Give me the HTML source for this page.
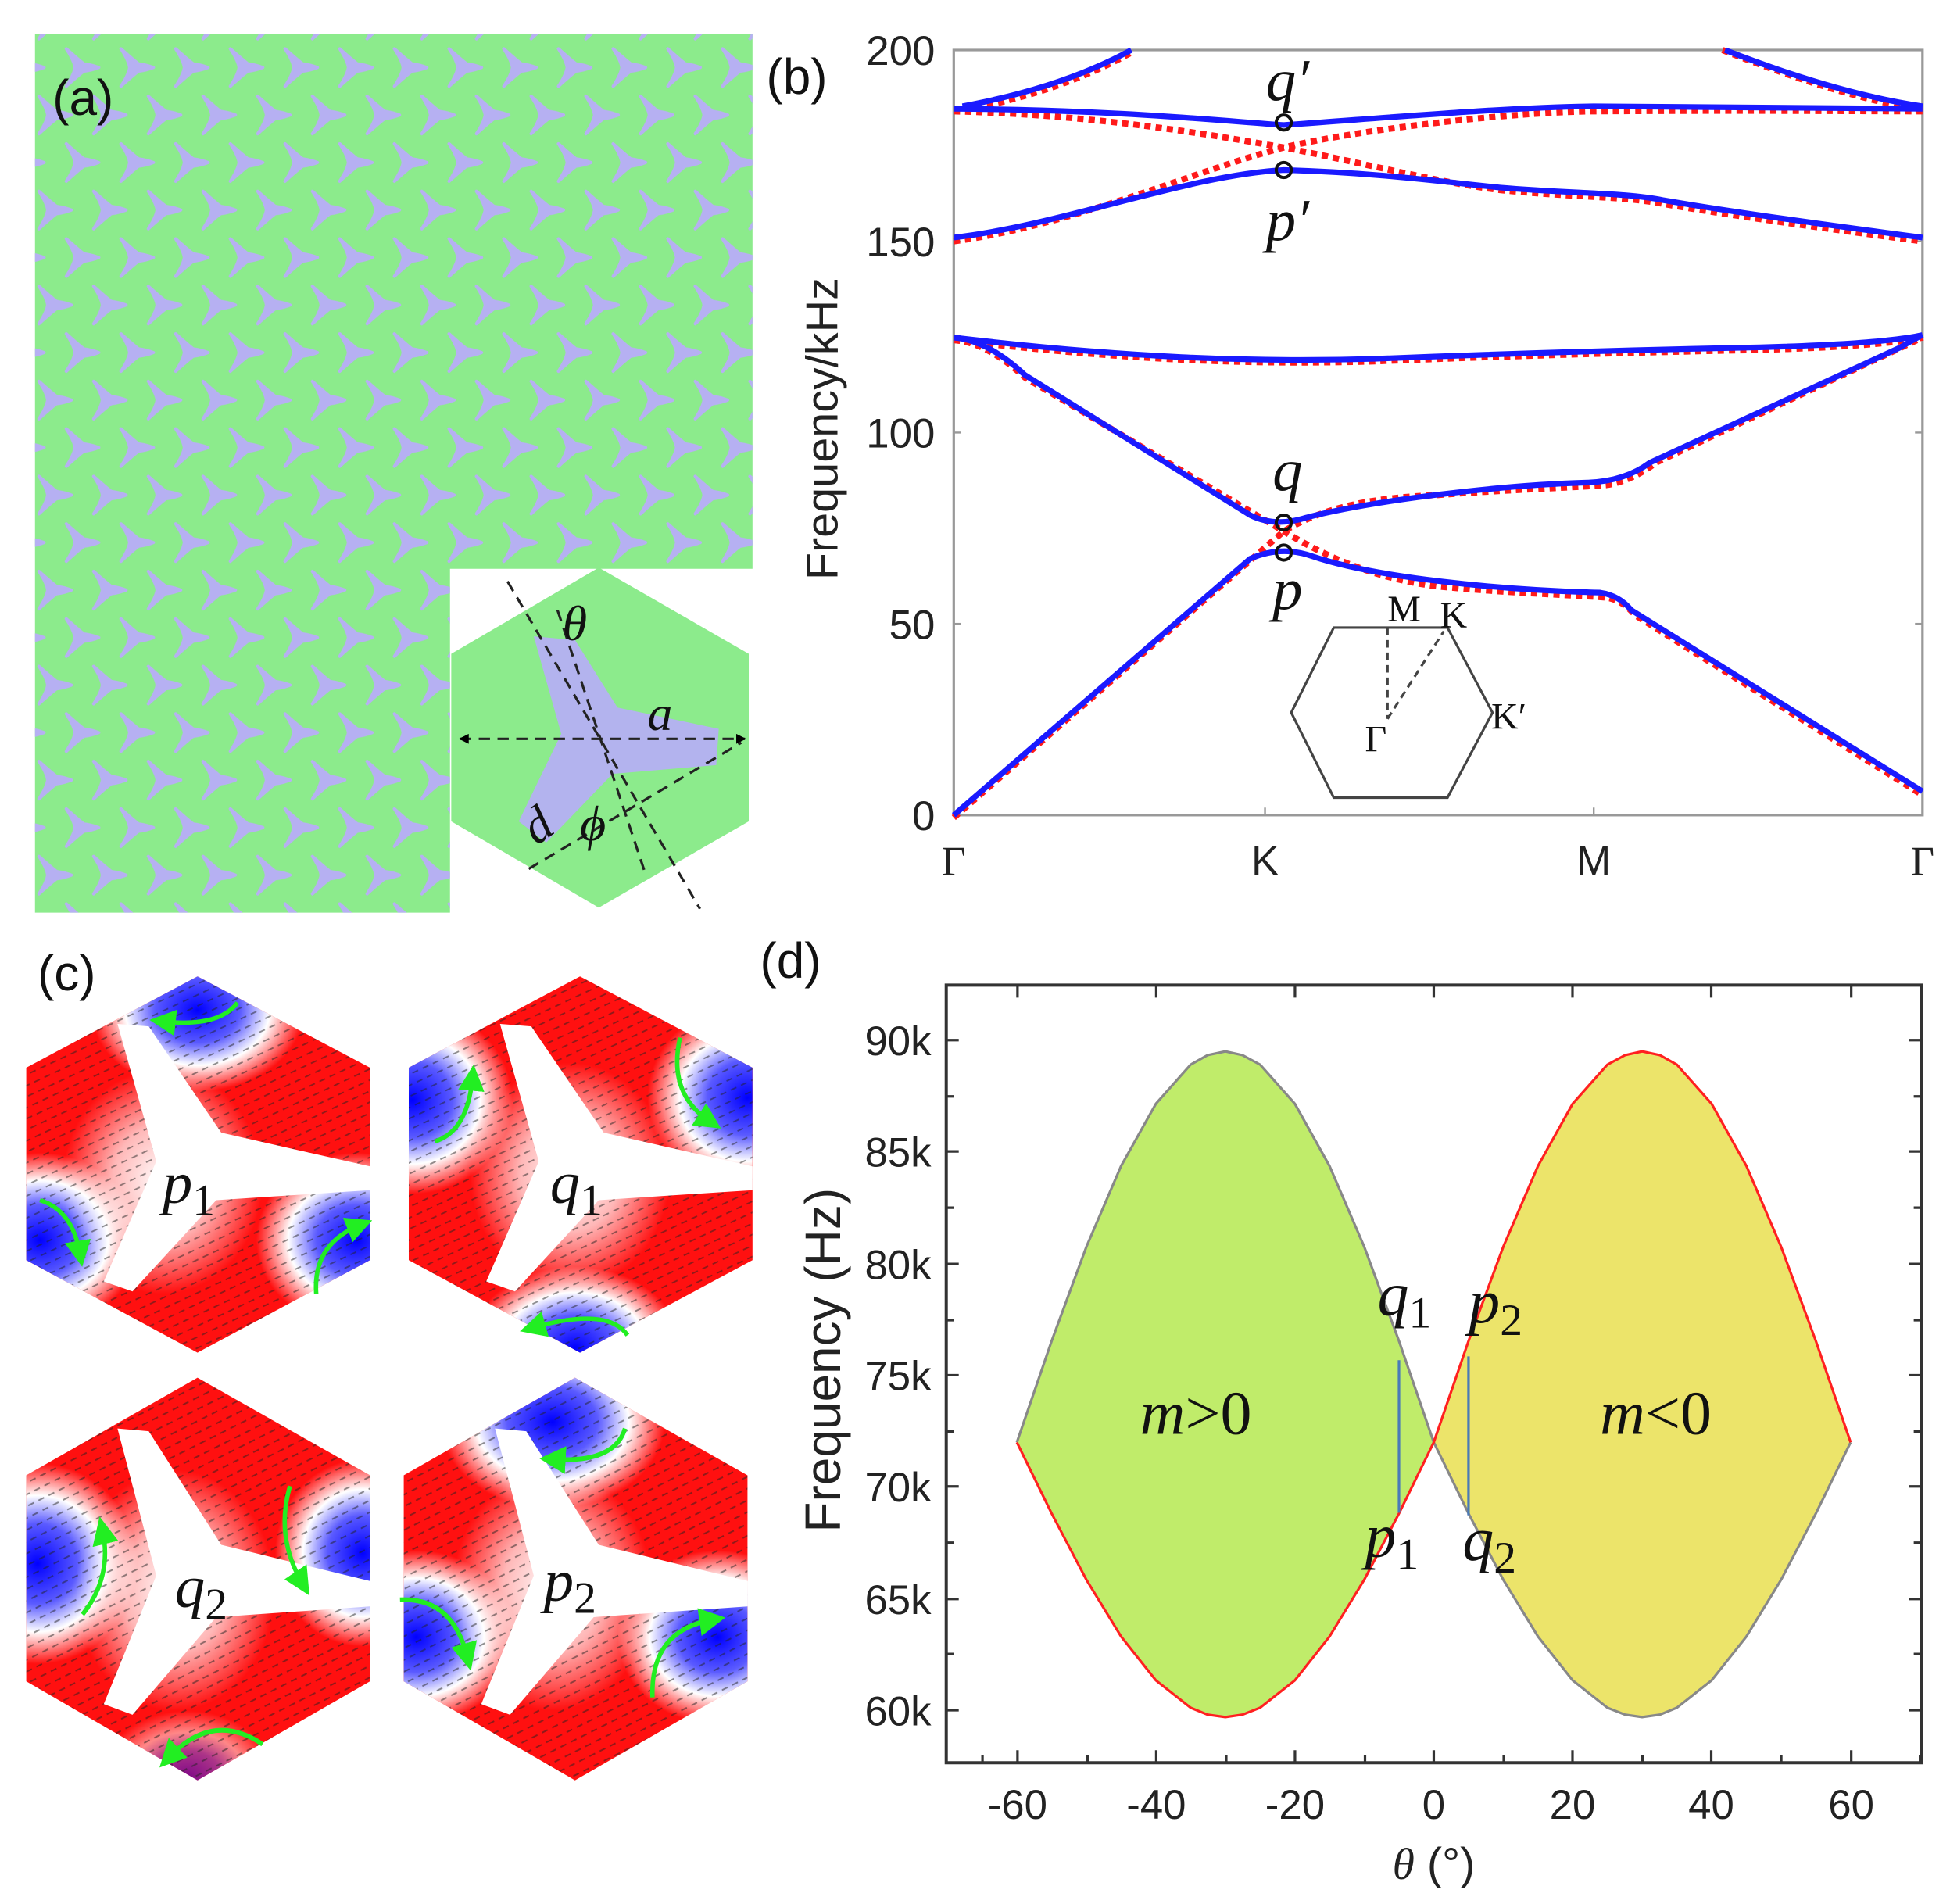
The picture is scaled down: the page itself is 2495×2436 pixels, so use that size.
<!DOCTYPE html>
<html><head><meta charset="utf-8"><style>html,body{margin:0;padding:0;background:#fff}svg{display:block}</style></head>
<body>
<svg width="2495" height="2436" viewBox="0 0 1560 1523" preserveAspectRatio="none" xmlns="http://www.w3.org/2000/svg" font-family="Liberation Sans, sans-serif">
<defs>
<path id="st" d="M-11,-15 Q-1,-6 3,-3 Q10,-2 15,0 Q10,2 3,3 Q-1,6 -11,15 Q-5,6 -4,0 Q-5,-6 -11,-15Z" fill="#b6b0f2" stroke="#b6b0f2" stroke-width="2.5" stroke-linejoin="round"/>
<pattern id="stars" x="53" y="35" width="43.75" height="76" patternUnits="userSpaceOnUse">
<use href="#st" x="11" y="19"/>
<use href="#st" x="32.9" y="57"/>
<use href="#st" x="-10.9" y="57"/>
<use href="#st" x="54.75" y="19"/>
<use href="#st" x="11" y="95"/>
<use href="#st" x="32.9" y="-19"/>
<use href="#st" x="-10.9" y="-19"/>
</pattern>
<pattern id="arr" width="9" height="8" patternUnits="userSpaceOnUse" patternTransform="rotate(-25)">
<line x1="1" y1="4" x2="6" y2="4" stroke="#222" stroke-width="1.2" opacity="0.5"/>
</pattern>
<radialGradient id="blue"><stop offset="0" stop-color="#0000ff"/><stop offset="0.4" stop-color="#5a5aff"/><stop offset="0.68" stop-color="#ffffff"/><stop offset="1" stop-color="#ffffff" stop-opacity="0"/></radialGradient>
<radialGradient id="wht"><stop offset="0" stop-color="#fff"/><stop offset="0.5" stop-color="#fff" stop-opacity="0.7"/><stop offset="1" stop-color="#fff" stop-opacity="0"/></radialGradient>
<clipPath id="hexc"><polygon points="158,781 296,854 296,1008 158,1082 21,1008 21,854"/></clipPath>
<g id="cellbase">
<polygon points="158,781 296,854 296,1008 158,1082 21,1008 21,854" fill="#ff1010"/>
</g>
<polygon id="whitestar" points="94,819 125,929 83,1025 106,1033 173,960 296,952 296,933 177,906 119,821" fill="#fff"/>
<marker id="ga" markerWidth="6" markerHeight="6" refX="3" refY="3" orient="auto" markerUnits="strokeWidth"><path d="M0,0 L6,3 L0,6Z" fill="#22ee22"/></marker>
<marker id="ah" markerWidth="8" markerHeight="8" refX="7" refY="4" orient="auto" markerUnits="userSpaceOnUse"><path d="M0,0 L8,4 L0,8Z" fill="#000"/></marker>
<marker id="ahr" markerWidth="8" markerHeight="8" refX="1" refY="4" orient="auto" markerUnits="userSpaceOnUse"><path d="M8,0 L0,4 L8,8Z" fill="#000"/></marker>
</defs>

<!-- Panel (a) -->
<path d="M28,27 H602 V455 H360 V730 H28 Z" fill="#8ceb8c"/>
<path d="M28,27 H602 V455 H360 V730 H28 Z" fill="url(#stars)"/>
<text x="42" y="92" font-size="40" fill="#111">(a)</text>
<polygon points="479,454 599,523 599,657 479,726 361,657 361,523" fill="#8ceb8c"/>
<polygon points="427,509 460,512 494,566 575,583 573,612 490,619 437,674 415,657 449,587" fill="#b3b3ee"/>
<g stroke="#222" stroke-width="2" stroke-dasharray="9,6" fill="none">
<line x1="368" y1="591" x2="596" y2="591" marker-start="url(#ahr)" marker-end="url(#ah)"/>
<line x1="406" y1="465" x2="560" y2="727"/>
<line x1="446" y1="488" x2="516" y2="698"/>
<line x1="423" y1="695" x2="593" y2="594"/>
</g>
<g font-family="Liberation Serif, serif" font-style="italic" fill="#111" font-size="40">
<text x="450" y="512">θ</text><text x="518" y="584">a</text>
<text x="420" y="672" transform="rotate(-35 432 660)">d</text><text x="464" y="672">ϕ</text>
</g>

<!-- Panel (b) -->
<text x="613" y="75" font-size="40" fill="#111">(b)</text>
<rect x="763" y="40" width="775" height="612" fill="none" stroke="#999" stroke-width="2"/>
<g stroke="#999" stroke-width="1.5">
<line x1="763" y1="193" x2="769" y2="193"/><line x1="763" y1="346" x2="769" y2="346"/><line x1="763" y1="499" x2="769" y2="499"/>
<line x1="1538" y1="193" x2="1532" y2="193"/><line x1="1538" y1="346" x2="1532" y2="346"/><line x1="1538" y1="499" x2="1532" y2="499"/>
<line x1="1012" y1="652" x2="1012" y2="646"/><line x1="1275" y1="652" x2="1275" y2="646"/>
</g>
<g font-size="33" fill="#222" text-anchor="end">
<text x="748" y="52">200</text><text x="748" y="205">150</text><text x="748" y="358">100</text><text x="748" y="511">50</text><text x="748" y="664">0</text>
</g>
<g font-size="33" fill="#222" text-anchor="middle" font-family="Liberation Serif, serif">
<text x="763" y="700">Γ</text><text x="1012" y="700" font-family="Liberation Sans, sans-serif">K</text><text x="1275" y="700" font-family="Liberation Sans, sans-serif">M</text><text x="1538" y="700">Γ</text>
</g>
<text transform="translate(670,343) rotate(-90)" font-size="36" fill="#222" text-anchor="middle">Frequency/kHz</text>
<!-- red dotted -->
<g stroke="#ff1a1a" stroke-width="5" stroke-dasharray="5,4" fill="none">
<path d="M763,654 L1027,425 C1060,405 1100,398 1150,396 C1200,392 1260,390 1285,388 Q1305,385 1325,370 L1538,270"/>
<path d="M763,272 Q790,274 820,302 L1027,425 C1060,445 1100,463 1150,469 C1200,474 1260,476 1285,478 Q1298,480 1308,492 L1538,636"/>
<path d="M763,272 C900,288 1000,292 1100,289 C1200,285 1300,282 1400,280 C1480,278 1520,274 1538,270"/>
<path d="M763,89 C880,92 970,108 1027,118 C1080,128 1150,146 1200,152 C1260,158 1300,157 1330,163 C1400,175 1500,188 1538,193"/>
<path d="M763,193 C860,180 960,135 1027,118 C1080,105 1200,90 1275,89 C1400,88 1500,89 1538,89"/>
<path d="M772,88 Q850,73 905,42"/><path d="M1378,40 Q1470,77 1538,88"/>
</g>
<!-- blue -->
<g stroke="#1a1aff" stroke-width="4.5" fill="none">
<path d="M763,652 L1000,447 Q1025,436 1050,445 C1100,462 1200,472 1280,474 Q1295,476 1305,488 L1538,633"/>
<path d="M763,270 Q790,272 820,300 L1000,412 Q1020,422 1045,414 C1100,400 1200,388 1270,386 Q1300,385 1320,370 L1520,278 Q1530,272 1538,268"/>
<path d="M763,270 C900,286 1000,290 1100,287 C1200,283 1300,280 1400,278 C1480,276 1520,272 1538,268"/>
<path d="M763,190 C850,180 950,140 1027,136 C1100,138 1150,145 1200,150 C1260,155 1300,154 1330,160 C1400,172 1500,185 1538,190"/>
<path d="M763,87 C900,88 980,97 1027,100 C1100,95 1200,86 1275,85 C1400,86 1500,87 1538,87"/>
<path d="M770,85 Q850,70 905,40"/><path d="M1380,40 Q1470,75 1538,85"/>
</g>
<g fill="none" stroke="#111" stroke-width="2.5">
<circle cx="1027" cy="98" r="6"/><circle cx="1027" cy="136" r="6"/><circle cx="1027" cy="418" r="6"/><circle cx="1027" cy="442" r="6"/>
</g>
<g font-family="Liberation Serif, serif" font-style="italic" fill="#111" font-size="48" text-anchor="middle">
<text x="1030" y="80">q′</text><text x="1030" y="192">p′</text><text x="1030" y="392">q</text><text x="1030" y="487">p</text>
</g>
<g stroke="#444" stroke-width="2" fill="none">
<polygon points="1067,502 1158,502 1194,570 1158,638 1067,638 1033,570"/>
<line x1="1110" y1="502" x2="1110" y2="575" stroke-dasharray="6,4"/>
<line x1="1110" y1="575" x2="1155" y2="505" stroke-dasharray="6,4"/>
</g>
<g font-family="Liberation Serif, serif" fill="#111" font-size="30">
<text x="1110" y="497">M</text><text x="1152" y="502">K</text><text x="1193" y="583">K′</text><text x="1092" y="601">Γ</text>
</g>

<!-- Panel (c) -->
<text x="30" y="792" font-size="40" fill="#111">(c)</text>
<g>
<use href="#cellbase"/>
<g clip-path="url(#hexc)">
<ellipse cx="158" cy="808" rx="85" ry="65" fill="url(#blue)"/>
<ellipse cx="32" cy="992" rx="80" ry="70" fill="url(#blue)"/>
<ellipse cx="285" cy="992" rx="80" ry="70" fill="url(#blue)"/>
<ellipse cx="130" cy="945" rx="80" ry="90" fill="url(#wht)"/>
<rect x="0" y="770" width="320" height="330" fill="url(#arr)"/>
</g>
<use href="#whitestar"/>
<path d="M190,802 Q175,822 130,817" stroke="#22ee22" stroke-width="3.5" fill="none" marker-end="url(#ga)"/>
<path d="M32,960 Q58,968 64,1003" stroke="#22ee22" stroke-width="3.5" fill="none" marker-end="url(#ga)"/>
<path d="M253,1035 Q250,995 288,980" stroke="#22ee22" stroke-width="3.5" fill="none" marker-end="url(#ga)"/>
<text x="130" y="962" font-family="Liberation Serif, serif" font-style="italic" font-size="48" fill="#111">p<tspan font-style="normal" font-size="36" dy="10">1</tspan></text>
</g>
<g transform="translate(306,0)">
<use href="#cellbase"/>
<g clip-path="url(#hexc)">
<ellipse cx="24" cy="880" rx="80" ry="75" fill="url(#blue)"/>
<ellipse cx="292" cy="878" rx="80" ry="75" fill="url(#blue)"/>
<ellipse cx="154" cy="1078" rx="85" ry="65" fill="url(#blue)"/>
<ellipse cx="150" cy="940" rx="80" ry="90" fill="url(#wht)"/>
<rect x="0" y="770" width="320" height="330" fill="url(#arr)"/>
</g>
<use href="#whitestar"/>
<path d="M42,913 Q68,905 72,862" stroke="#22ee22" stroke-width="3.5" fill="none" marker-end="url(#ga)"/>
<path d="M238,830 Q228,875 262,897" stroke="#22ee22" stroke-width="3.5" fill="none" marker-end="url(#ga)"/>
<path d="M196,1068 Q180,1045 120,1062" stroke="#22ee22" stroke-width="3.5" fill="none" marker-end="url(#ga)"/>
<text x="134" y="962" font-family="Liberation Serif, serif" font-style="italic" font-size="48" fill="#111">q<tspan font-style="normal" font-size="36" dy="10">1</tspan></text>
</g>
<g transform="translate(0,1102) scale(1,1.07) translate(0,-781)">
<use href="#cellbase"/>
<g clip-path="url(#hexc)">
<ellipse cx="30" cy="920" rx="80" ry="75" fill="url(#blue)"/>
<ellipse cx="290" cy="912" rx="70" ry="70" fill="url(#blue)"/>
<ellipse cx="150" cy="1080" rx="70" ry="50" fill="url(#blue)" opacity="0.5"/>
<ellipse cx="140" cy="940" rx="80" ry="90" fill="url(#wht)"/>
<rect x="0" y="770" width="320" height="330" fill="url(#arr)"/>
</g>
<use href="#whitestar"/>
<path d="M66,958 Q90,930 82,895" stroke="#22ee22" stroke-width="3.5" fill="none" marker-end="url(#ga)"/>
<path d="M232,862 Q220,900 242,935" stroke="#22ee22" stroke-width="3.5" fill="none" marker-end="url(#ga)"/>
<path d="M210,1055 Q170,1030 135,1065" stroke="#22ee22" stroke-width="3.5" fill="none" marker-end="url(#ga)"/>
</g>
<text x="140" y="1285" font-family="Liberation Serif, serif" font-style="italic" font-size="48" fill="#111">q<tspan font-style="normal" font-size="36" dy="10">2</tspan></text>
<g transform="translate(302,1102) scale(1,1.07) translate(0,-781)">
<use href="#cellbase"/>
<g clip-path="url(#hexc)">
<ellipse cx="140" cy="814" rx="90" ry="65" fill="url(#blue)"/>
<ellipse cx="31" cy="975" rx="80" ry="65" fill="url(#blue)"/>
<ellipse cx="272" cy="975" rx="80" ry="65" fill="url(#blue)"/>
<ellipse cx="140" cy="940" rx="80" ry="90" fill="url(#wht)"/>
<rect x="0" y="770" width="320" height="330" fill="url(#arr)"/>
</g>
<use href="#whitestar"/>
<path d="M198,819 Q190,845 140,842" stroke="#22ee22" stroke-width="3.5" fill="none" marker-end="url(#ga)"/>
<path d="M18,947 Q60,945 72,990" stroke="#22ee22" stroke-width="3.5" fill="none" marker-end="url(#ga)"/>
<path d="M220,1020 Q218,970 268,962" stroke="#22ee22" stroke-width="3.5" fill="none" marker-end="url(#ga)"/>
</g>
<text x="435" y="1280" font-family="Liberation Serif, serif" font-style="italic" font-size="48" fill="#111">p<tspan font-style="normal" font-size="36" dy="10">2</tspan></text>

<!-- Panel (d) -->
<text x="608" y="782" font-size="40" fill="#111">(d)</text>
<path d="M813.5,1153.7 L841.3,1072.7 L869.1,997.3 L896.9,932.6 L924.7,882.9 L952.5,851.6 L966,844 L980.3,841 L994,844 L1008.1,851.6 L1035.9,882.9 L1063.6,932.6 L1091.4,997.3 L1119.2,1072.7 L1147,1153.7 L1119.2,1210.6 L1091.4,1263.6 L1063.6,1309.1 L1035.9,1344.1 L1008.1,1366 L994,1371.5 L980.3,1373.5 L966,1371.5 L952.5,1366 L924.7,1344.1 L896.9,1309.1 L869.1,1263.6 L841.3,1210.6 Z" fill="#c0ec6a"/>
<path d="M1147,1153.7 L1174.8,1072.7 L1202.6,997.3 L1230.4,932.6 L1258.1,882.9 L1285.9,851.6 L1300,844 L1313.7,841 L1328,844 L1341.5,851.6 L1369.3,882.9 L1397.1,932.6 L1424.9,997.3 L1452.7,1072.7 L1480.5,1153.7 L1452.7,1210.6 L1424.9,1263.6 L1397.1,1309.1 L1369.3,1344.1 L1341.5,1366 L1328,1371.5 L1313.7,1373.5 L1300,1371.5 L1285.9,1366 L1258.1,1344.1 L1230.4,1309.1 L1202.6,1263.6 L1174.8,1210.6 Z" fill="#ece46a"/>
<path d="M1119.2,1072.7 L1147,1153.7 L1119.2,1210.6 Z" fill="#c0ec6a"/>
<g fill="none" stroke-width="2">
<path d="M813.5,1153.7 L841.3,1072.7 L869.1,997.3 L896.9,932.6 L924.7,882.9 L952.5,851.6 L966,844 L980.3,841 L994,844 L1008.1,851.6 L1035.9,882.9 L1063.6,932.6 L1091.4,997.3 L1119.2,1072.7 L1147,1153.7 L1174.8,1210.6 L1202.6,1263.6 L1230.4,1309.1 L1258.1,1344.1 L1285.9,1366 L1300,1371.5 L1313.7,1373.5 L1328,1371.5 L1341.5,1366 L1369.3,1344.1 L1397.1,1309.1 L1424.9,1263.6 L1452.7,1210.6 L1480.5,1153.7" stroke="#888"/>
<path d="M813.5,1153.7 L841.3,1210.6 L869.1,1263.6 L896.9,1309.1 L924.7,1344.1 L952.5,1366 L966,1371.5 L980.3,1373.5 L994,1371.5 L1008.1,1366 L1035.9,1344.1 L1063.6,1309.1 L1091.4,1263.6 L1119.2,1210.6 L1147,1153.7 L1174.8,1072.7 L1202.6,997.3 L1230.4,932.6 L1258.1,882.9 L1285.9,851.6 L1300,844 L1313.7,841 L1328,844 L1341.5,851.6 L1369.3,882.9 L1397.1,932.6 L1424.9,997.3 L1452.7,1072.7 L1480.5,1153.7" stroke="#ff2020"/>
<line x1="1119.2" y1="1088" x2="1119.2" y2="1210" stroke="#4a7ab8"/>
<line x1="1174.8" y1="1085" x2="1174.8" y2="1212" stroke="#4a7ab8"/>
</g>
<rect x="757" y="788" width="780" height="622" fill="none" stroke="#333" stroke-width="2.5"/>
<g stroke="#333" stroke-width="2">
<path d="M757,832 h10 M757,921 h10 M757,1011 h10 M757,1100 h10 M757,1189 h10 M757,1279 h10 M757,1368 h10"/>
<path d="M1537,832 h-10 M1537,921 h-10 M1537,1011 h-10 M1537,1100 h-10 M1537,1189 h-10 M1537,1279 h-10 M1537,1368 h-10"/>
<path d="M757,877 h6 M757,966 h6 M757,1056 h6 M757,1145 h6 M757,1234 h6 M757,1323 h6 M1537,877 h-6 M1537,966 h-6 M1537,1056 h-6 M1537,1145 h-6 M1537,1234 h-6 M1537,1323 h-6"/>
<path d="M814,1410 v-10 M925,1410 v-10 M1036,1410 v-10 M1147,1410 v-10 M1258,1410 v-10 M1369,1410 v-10 M1481,1410 v-10"/>
<path d="M870,1410 v-6 M981,1410 v-6 M1092,1410 v-6 M1203,1410 v-6 M1314,1410 v-6 M1425,1410 v-6 M1536,1410 v-6 M786,1410 v-6"/>
<path d="M814,788 v10 M925,788 v10 M1036,788 v10 M1147,788 v10 M1258,788 v10 M1369,788 v10 M1481,788 v10"/>
</g>
<g font-size="33" fill="#222" text-anchor="end">
<text x="745" y="844">90k</text><text x="745" y="933">85k</text><text x="745" y="1023">80k</text><text x="745" y="1112">75k</text><text x="745" y="1201">70k</text><text x="745" y="1291">65k</text><text x="745" y="1380">60k</text>
</g>
<g font-size="33" fill="#222" text-anchor="middle">
<text x="814" y="1455">-60</text><text x="925" y="1455">-40</text><text x="1036" y="1455">-20</text><text x="1147" y="1455">0</text><text x="1258" y="1455">20</text><text x="1369" y="1455">40</text><text x="1481" y="1455">60</text>
</g>
<text x="1147" y="1503" font-size="36" fill="#222" text-anchor="middle"><tspan font-family="Liberation Serif, serif" font-style="italic">θ</tspan> (°)</text>
<text transform="translate(672,1088) rotate(-90)" font-size="40" fill="#222" text-anchor="middle">Frequency (Hz)</text>
<g font-family="Liberation Serif, serif" fill="#111" font-size="50">
<text x="912" y="1147"><tspan font-style="italic">m</tspan>&gt;0</text>
<text x="1280" y="1147"><tspan font-style="italic">m</tspan>&lt;0</text>
<text x="1102" y="1052" font-style="italic">q<tspan font-style="normal" font-size="36" dy="10">1</tspan></text>
<text x="1175" y="1058" font-style="italic">p<tspan font-style="normal" font-size="36" dy="10">2</tspan></text>
<text x="1092" y="1245" font-style="italic">p<tspan font-style="normal" font-size="36" dy="10">1</tspan></text>
<text x="1170" y="1248" font-style="italic">q<tspan font-style="normal" font-size="36" dy="10">2</tspan></text>
</g>
</svg>
</body></html>
